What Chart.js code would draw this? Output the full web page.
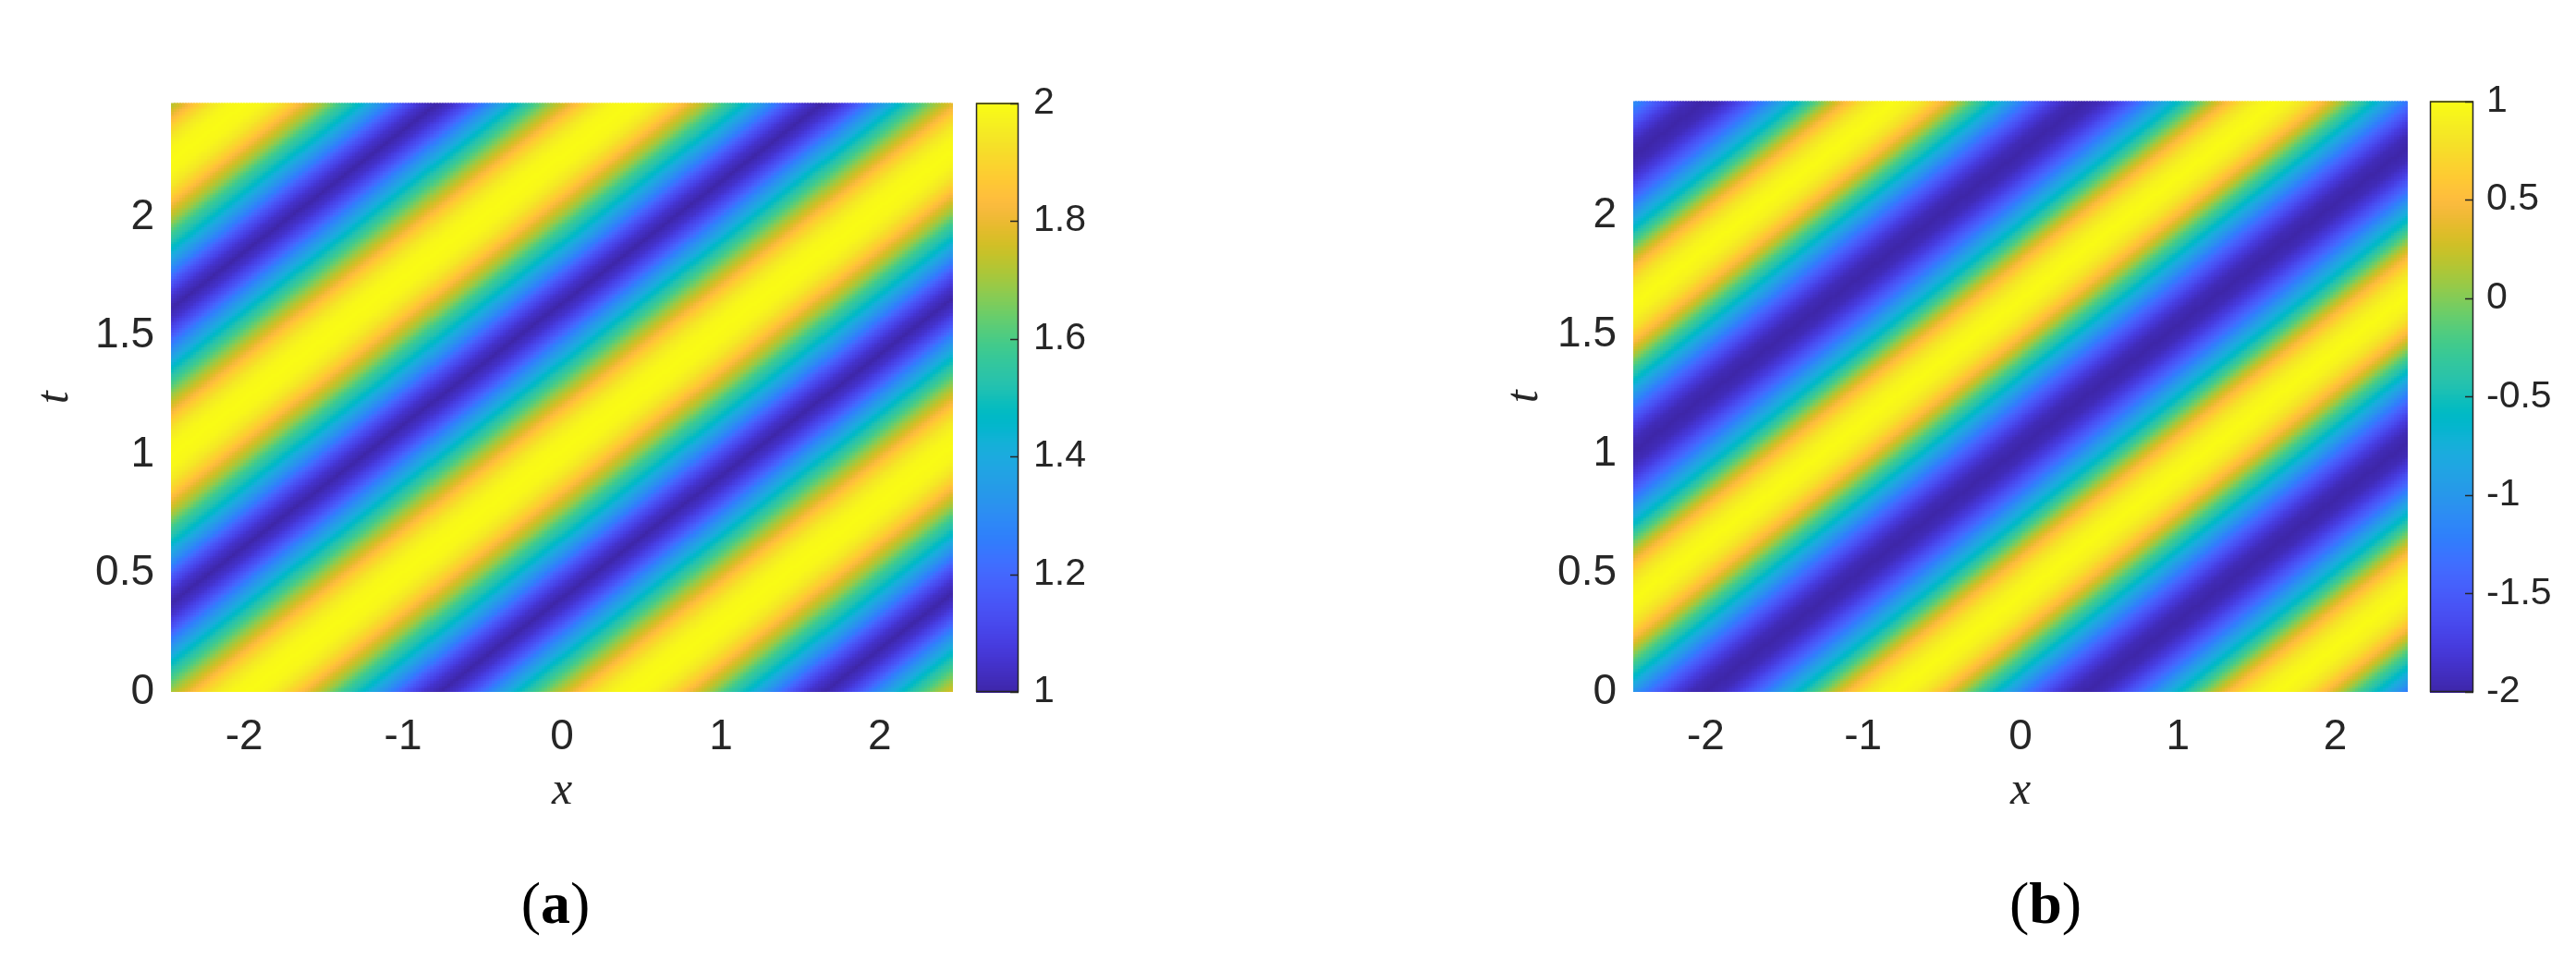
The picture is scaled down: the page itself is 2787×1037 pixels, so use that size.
<!DOCTYPE html>
<html><head><meta charset="utf-8">
<script src="https://cdn.jsdelivr.net/npm/chart.js@4.4.0/dist/chart.umd.min.js"></script>
<style>
html,body{margin:0;padding:0;background:#fff;}
body{width:2787px;height:1037px;position:relative;overflow:hidden;}
.panel{position:absolute;top:0;}
.cap{position:absolute;font-family:"Liberation Serif","DejaVu Serif",serif;font-size:64px;line-height:1;color:#000;transform:translateX(-50%);white-space:nowrap;}
</style></head><body>
<div class="panel" style="left:0;width:1400px;height:920px"><canvas id="ca"></canvas></div>
<div class="panel" style="left:1590px;width:1197px;height:920px"><canvas id="cb"></canvas></div>
<div class="cap" style="left:601px;top:946px">(<b>a</b>)</div>
<div class="cap" style="left:2213px;top:946px">(<b>b</b>)</div>
<script>
// ---- data ----
const xTicks = [-2, -1, 0, 1, 2];
const tTicks = [0, 0.5, 1, 1.5, 2];
const xRange = [-2.46, 2.46];
const tRange = [0, 2.48];
const wavePeriod = 2.42;     // spacing of the stripes along x
const stripeDrift = 1.95;    // x shift of the stripes per unit of t
// panel (a): values along the t = 0 row over one stripe period
const aRowX = [-1.99,-1.89,-1.79,-1.69,-1.59,-1.49,-1.39,-1.28,-1.18,-1.08,-0.98,-0.88,-0.78,-0.68,-0.58,-0.48,-0.38,-0.28,-0.18,-0.07,0.03,0.13,0.23,0.33];
const aRowV = [2.00,1.99,1.95,1.88,1.78,1.69,1.58,1.48,1.37,1.26,1.14,1.05,1.00,1.05,1.14,1.26,1.37,1.48,1.58,1.69,1.78,1.88,1.95,1.99];
// panel (b): values along the t = 0 row over one stripe period
const bRowX = [-0.80,-0.70,-0.60,-0.50,-0.40,-0.30,-0.19,-0.09,0.01,0.11,0.21,0.31,0.41,0.51,0.61,0.71,0.81,0.91,1.02,1.12,1.22,1.32,1.42,1.52];
const bRowV = [1.00,0.94,0.79,0.52,0.19,-0.17,-0.53,-0.86,-1.19,-1.49,-1.76,-1.94,-2.00,-1.94,-1.76,-1.49,-1.19,-0.86,-0.53,-0.17,0.19,0.52,0.79,0.94];
const aBarTicks = [1, 1.2, 1.4, 1.6, 1.8, 2];
const bBarTicks = [-2, -1.5, -1, -0.5, 0, 0.5, 1];
const aBarRange = [1, 2];
const bBarRange = [-2, 1];

// ---- parula colormap ----
const PARULA = [[0.2422,0.1504,0.6603],[0.2504,0.1650,0.7076],[0.2578,0.1818,0.7511],[0.2647,0.1978,0.7952],[0.2706,0.2147,0.8364],[0.2751,0.2342,0.8710],[0.2783,0.2559,0.8991],[0.2803,0.2782,0.9221],[0.2813,0.3006,0.9414],[0.2810,0.3228,0.9579],[0.2795,0.3447,0.9717],[0.2760,0.3667,0.9829],[0.2699,0.3892,0.9906],[0.2602,0.4123,0.9952],[0.2440,0.4358,0.9988],[0.2206,0.4603,0.9973],[0.1963,0.4847,0.9892],[0.1834,0.5074,0.9798],[0.1786,0.5289,0.9682],[0.1764,0.5499,0.9520],[0.1687,0.5703,0.9359],[0.1540,0.5902,0.9218],[0.1460,0.6091,0.9079],[0.1380,0.6276,0.8973],[0.1248,0.6459,0.8883],[0.1113,0.6635,0.8763],[0.0952,0.6798,0.8598],[0.0689,0.6948,0.8394],[0.0297,0.7082,0.8163],[0.0036,0.7203,0.7917],[0.0067,0.7312,0.7660],[0.0433,0.7411,0.7394],[0.0964,0.7500,0.7120],[0.1408,0.7584,0.6842],[0.1717,0.7670,0.6554],[0.1938,0.7758,0.6251],[0.2161,0.7843,0.5923],[0.2470,0.7918,0.5567],[0.2906,0.7973,0.5188],[0.3406,0.8008,0.4789],[0.3909,0.8029,0.4354],[0.4456,0.8024,0.3909],[0.5044,0.7993,0.3480],[0.5616,0.7942,0.3045],[0.6174,0.7876,0.2612],[0.6720,0.7793,0.2227],[0.7242,0.7698,0.1910],[0.7738,0.7598,0.1646],[0.8203,0.7498,0.1535],[0.8634,0.7406,0.1596],[0.9035,0.7330,0.1774],[0.9393,0.7288,0.2100],[0.9728,0.7298,0.2394],[0.9956,0.7434,0.2371],[0.9970,0.7659,0.2199],[0.9952,0.7893,0.2028],[0.9892,0.8136,0.1885],[0.9786,0.8386,0.1766],[0.9676,0.8639,0.1643],[0.9610,0.8890,0.1537],[0.9597,0.9135,0.1423],[0.9628,0.9373,0.1265],[0.9691,0.9606,0.1064],[0.9769,0.9839,0.0805]];
const LUT = [];
for (let k = 0; k < 256; k++) {
  const p = k / 255 * 63, i = Math.min(62, Math.floor(p)), f = p - i;
  const a = PARULA[i], b = PARULA[i + 1];
  LUT.push('rgb(' + [0,1,2].map(c => Math.round(255 * (a[c] + (b[c] - a[c]) * f))).join(',') + ')');
}
function colorFor(v, lo, hi) {
  let n = (v - lo) / (hi - lo); n = Math.max(0, Math.min(1, n));
  return LUT[Math.round(n * 255)];
}

// ---- table of cells built from the row arrays ----
function rowLookup(rowX, rowV, x) {
  const xs = rowX.concat([rowX[0] + wavePeriod]);
  const vs = rowV.concat([rowV[0]]);
  let u = ((x - rowX[0]) % wavePeriod + wavePeriod) % wavePeriod + rowX[0];
  for (let k = 0; k < xs.length - 1; k++) {
    if (u >= xs[k] && u <= xs[k + 1]) {
      const f = (u - xs[k]) / (xs[k + 1] - xs[k]);
      return vs[k] + (vs[k + 1] - vs[k]) * f;
    }
  }
  return vs[0];
}
function buildCells(rowX, rowV, nx, ny) {
  const xe = [], te = [], vals = [];
  for (let i = 0; i <= nx; i++) xe.push(xRange[0] + (xRange[1] - xRange[0]) * i / nx);
  for (let j = 0; j <= ny; j++) te.push(tRange[0] + (tRange[1] - tRange[0]) * j / ny);
  for (let j = 0; j < ny; j++) {
    const tc = (te[j] + te[j + 1]) / 2, row = [];
    for (let i = 0; i < nx; i++) {
      const xc = (xe[i] + xe[i + 1]) / 2;
      row.push(rowLookup(rowX, rowV, xc - stripeDrift * tc));
    }
    vals.push(row);
  }
  return { xe, te, vals };
}

const heatPlugin = {
  id: 'heat',
  beforeDatasetsDraw(chart, args, o) {
    const { ctx, chartArea } = chart;
    const xs = chart.scales.x, ys = chart.scales.y;
    const { xe, te, vals } = o.cells;
    ctx.save();
    ctx.beginPath();
    ctx.rect(chartArea.left, chartArea.top, chartArea.width, chartArea.height);
    ctx.clip();
    for (let j = 0; j < vals.length; j++) {
      const y0 = Math.floor(ys.getPixelForValue(te[j + 1]));
      const y1 = Math.ceil(ys.getPixelForValue(te[j]));
      for (let i = 0; i < vals[j].length; i++) {
        const x0 = Math.floor(xs.getPixelForValue(xe[i]));
        const x1 = Math.ceil(xs.getPixelForValue(xe[i + 1]));
        ctx.fillStyle = colorFor(vals[j][i], o.lo, o.hi);
        ctx.fillRect(x0, y0, x1 - x0 + 1, y1 - y0 + 1);
      }
    }
    ctx.restore();
  },
  afterDraw(chart, args, o) {
    const { ctx } = chart;
    const cs = chart.scales.c;
    const L = o.barLeft, R = o.barRight;
    const top = cs.getPixelForValue(o.hi), bot = cs.getPixelForValue(o.lo);
    ctx.save();
    const steps = 256;
    for (let k = 0; k < steps; k++) {
      const v0 = o.lo + (o.hi - o.lo) * k / steps, v1 = o.lo + (o.hi - o.lo) * (k + 1) / steps;
      const ya = cs.getPixelForValue(v1), yb = cs.getPixelForValue(v0);
      ctx.fillStyle = colorFor((v0 + v1) / 2, o.lo, o.hi);
      ctx.fillRect(L, Math.floor(ya), R - L, Math.ceil(yb) - Math.floor(ya) + 1);
    }
    ctx.strokeStyle = '#262626';
    ctx.lineWidth = 1.5;
    ctx.strokeRect(L + 0.5, top + 0.5, R - L - 1, bot - top - 1);
    ctx.beginPath();
    o.ticks.forEach(v => {
      const y = Math.round(cs.getPixelForValue(v)) + 0.5;
      ctx.moveTo(R - 9, y); ctx.lineTo(R, y);
    });
    ctx.stroke();
    ctx.restore();
  }
};

function makeChart(id, cfg) {
  const tickFont = { family: '"Liberation Sans", Arial, Helvetica, sans-serif', size: 46 };
  const barFont = { family: '"Liberation Sans", Arial, Helvetica, sans-serif', size: 41 };
  const titleFont = { family: '"Liberation Serif", "DejaVu Serif", serif', size: 50, style: 'italic' };
  const fmt = v => String(v);
  return new Chart(document.getElementById(id), {
    type: 'scatter',
    data: { datasets: [] },
    plugins: [heatPlugin],
    options: {
      responsive: true, maintainAspectRatio: false, animation: false,
      devicePixelRatio: 1,
      layout: { padding: { top: cfg.plotTop, left: 0, right: 0, bottom: 0 } },
      plugins: {
        legend: { display: false }, tooltip: { enabled: false },
        heat: { cells: cfg.cells, lo: cfg.barRange[0], hi: cfg.barRange[1], ticks: cfg.barTicks, barLeft: cfg.barLeft, barRight: cfg.barRight }
      },
      scales: {
        x: {
          type: 'linear', position: 'bottom', min: xRange[0], max: xRange[1],
          grid: { display: false, drawTicks: false }, border: { display: false },
          afterBuildTicks: s => { s.ticks = xTicks.map(v => ({ value: v })); },
          afterFit: s => { s.height = cfg.height - cfg.plotBottom; },
          ticks: { font: tickFont, color: '#262626', padding: 22, autoSkip: false, maxRotation: 0, callback: fmt },
          title: { display: true, text: 'x', font: titleFont, color: '#262626', padding: { top: 0, bottom: 33 } }
        },
        y: {
          type: 'linear', position: 'left', min: tRange[0], max: tRange[1],
          grid: { display: false, drawTicks: false }, border: { display: false },
          afterBuildTicks: s => { s.ticks = tTicks.map(v => ({ value: v })); },
          afterFit: s => { s.width = cfg.plotLeft; },
          ticks: { font: tickFont, color: '#262626', padding: 18, autoSkip: false, callback: fmt },
          title: { display: true, text: 't', font: titleFont, color: '#262626', padding: { top: 30, bottom: 0 } }
        },
        c: {
          type: 'linear', position: 'right', min: cfg.barRange[0], max: cfg.barRange[1],
          grid: { display: false, drawTicks: false }, border: { display: false },
          afterBuildTicks: s => { s.ticks = cfg.barTicks.map(v => ({ value: v })); },
          afterFit: s => { s.width = cfg.width - cfg.plotRight; },
          ticks: { font: barFont, color: '#262626', padding: cfg.barLabelLeft - cfg.plotRight, autoSkip: false, callback: fmt }
        }
      }
    }
  });
}

makeChart('ca', {
  cells: buildCells(aRowX, aRowV, 280, 240), barRange: aBarRange, barTicks: aBarTicks,
  width: 1400, height: 920, plotLeft: 185, plotRight: 1031, plotTop: 30, plotBottom: 749,
  barLeft: 1056, barRight: 1102, barLabelLeft: 1118
});
makeChart('cb', {
  cells: buildCells(bRowX, bRowV, 280, 240), barRange: bBarRange, barTicks: bBarTicks,
  width: 1197, height: 920, plotLeft: 177, plotRight: 1015, plotTop: 36, plotBottom: 749,
  barLeft: 1039, barRight: 1086, barLabelLeft: 1100
});
</script>
</body></html>
